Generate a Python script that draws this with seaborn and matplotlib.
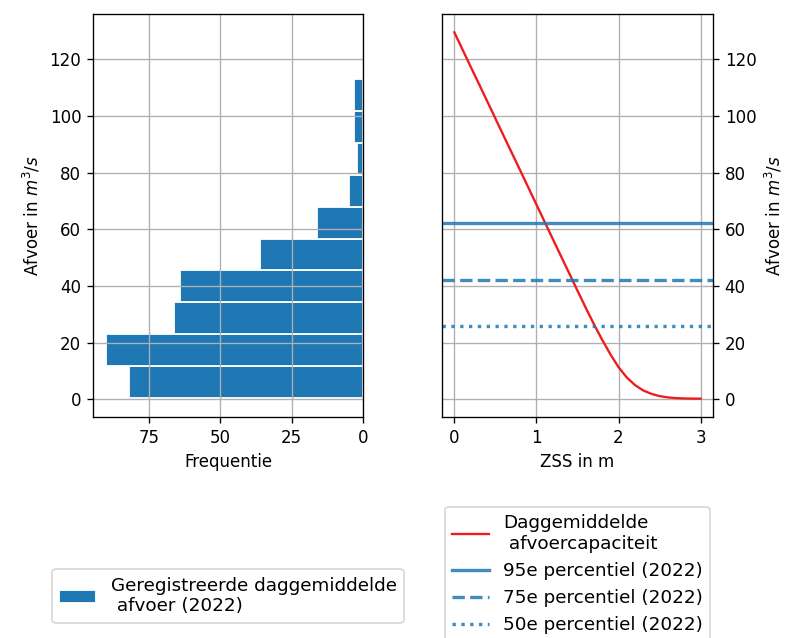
import numpy as np
import seaborn as sns
import matplotlib.pyplot as plt

# histogram of registered daily mean discharge (2022)
bin_edges = [0.5, 11.74, 22.98, 34.22, 45.46, 56.7, 67.94, 79.18, 90.42, 101.66, 112.9]
frequenties = [82, 90, 66, 64, 36, 16, 5, 2, 3, 3]

# discharge capacity vs ZSS
zss = [0, 0.2, 0.4, 0.6, 0.8, 1.0, 1.2, 1.4, 1.5, 1.6, 1.7, 1.8, 1.9, 2.0,
       2.1, 2.2, 2.3, 2.4, 2.5, 2.6, 2.7, 2.8, 2.9, 3.0]
afvoercapaciteit = [129.5, 117.3, 105.2, 93.0, 80.9, 68.7, 56.5, 44.4, 38.3,
                    32.3, 26.5, 21.0, 15.9, 11.3, 7.7, 5.0, 3.1, 1.9, 1.1,
                    0.65, 0.4, 0.28, 0.22, 0.2]

percentielen = [62.3, 42.2, 25.8]
percentiel_labels = ['95e percentiel (2022)', '75e percentiel (2022)', '50e percentiel (2022)']
percentiel_styles = ['-', '--', ':']

bin_mid = [(a + b) / 2 for a, b in zip(bin_edges[:-1], bin_edges[1:])]

fig = plt.figure(figsize=(790 / 120, 638 / 120), dpi=120)
ax1 = fig.add_axes([0.1177, 0.3464, 0.3418, 0.6317])
ax2 = fig.add_axes([0.5595, 0.3464, 0.343, 0.6317], sharey=ax1)

sns.histplot(y=bin_mid, weights=frequenties, bins=bin_edges, ax=ax1,
             color='#1f77b4', alpha=1, edgecolor='white', linewidth=1.1,
             label='Geregistreerde daggemiddelde\n afvoer (2022)')
ax1.invert_xaxis()
ax1.set_xticks([0, 25, 50, 75])
ax1.set_xlabel('Frequentie')
ax1.set_ylabel('Afvoer in $m^3/s$')
ax1.grid(True)
ax1.legend(loc='upper center', bbox_to_anchor=(0.5, -0.355), fontsize=11)

sns.lineplot(x=zss, y=afvoercapaciteit, ax=ax2, color='#ee1c1c', linewidth=1.4,
             label='Daggemiddelde\n afvoercapaciteit')
for val, lab, ls in zip(percentielen, percentiel_labels, percentiel_styles):
    ax2.axhline(val, color='#1f77b4', alpha=0.85, linestyle=ls, linewidth=2, label=lab)
ax2.set_xlabel('ZSS in m')
ax2.set_ylabel('Afvoer in $m^3/s$')
ax2.yaxis.set_label_position('right')
ax2.tick_params(axis='y', left=False, labelleft=False, right=True, labelright=True)
ax2.set_xticks([0, 1, 2, 3])
ax2.grid(True)
ax2.legend(loc='upper center', bbox_to_anchor=(0.5, -0.2), fontsize=11)

ax1.set_yticks([0, 20, 40, 60, 80, 100, 120])

fig.savefig('out.png', dpi=120)
